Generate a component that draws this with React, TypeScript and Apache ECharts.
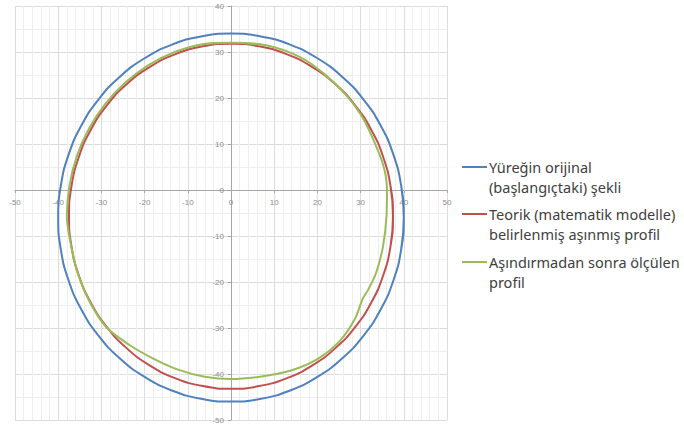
import React, { useEffect, useRef } from "react";
import * as echarts from "echarts";

// Tick labels / axis extents
const xTicks = [-50, -40, -30, -20, -10, 0, 10, 20, 30, 40, 50];
const yTicks = [-50, -40, -30, -20, -10, 0, 10, 20, 30, 40];

const seriesNames = [
  "Yüreğin orijinal\n(başlangıçtaki) şekli",
  "Teorik (matematik modelle)\nbelirlenmiş aşınmış profil",
  "Aşındırmadan sonra ölçülen\nprofil",
];

// Original core shape
const blueProfile: number[][] = [
  [39.39, -12.94], [40, -6], [39.39, 0.94], [37.59, 7.68], [34.64, 14], [30.64, 19.71],
  [25.71, 24.64], [20, 28.64], [13.68, 31.59], [6.94, 33.39], [0, 34],
  [-6.94, 33.39], [-13.68, 31.59], [-20, 28.64], [-25.71, 24.64], [-30.64, 19.71],
  [-34.64, 14], [-37.59, 7.68], [-39.39, 0.94], [-40, -6], [-39.39, -12.94],
  [-37.59, -19.68], [-34.64, -26], [-30.64, -31.71], [-25.71, -36.64], [-20, -40.64],
  [-13.68, -43.59], [-6.94, -45.39], [0, -46], [6.94, -45.39], [13.68, -43.59],
  [20, -40.64], [25.71, -36.64], [30.64, -31.71], [34.64, -26], [37.59, -19.68],
  [39.39, -12.94], [40, -6], [39.39, 0.94],
];

// Theoretical worn profile
const redProfile: number[][] = [
  [36.93, -12.21], [37.5, -5.7], [36.93, 0.81], [35.24, 7.13], [32.48, 13.05], [28.73, 18.41],
  [24.11, 23.03], [18.75, 26.78], [12.83, 29.54], [6.51, 31.23], [0, 31.8],
  [-6.51, 31.23], [-12.83, 29.54], [-18.75, 26.78], [-24.11, 23.03], [-28.73, 18.41],
  [-32.48, 13.05], [-35.24, 7.13], [-36.93, 0.81], [-37.5, -5.7], [-36.93, -12.21],
  [-35.24, -18.53], [-32.48, -24.45], [-28.73, -29.81], [-24.11, -34.43], [-18.75, -38.18],
  [-12.83, -40.94], [-6.51, -42.63], [0, -43.2], [6.51, -42.63], [12.83, -40.94],
  [18.75, -38.18], [24.11, -34.43], [28.73, -29.81], [32.48, -24.45], [35.24, -18.53],
  [36.93, -12.21], [37.5, -5.7], [36.93, 0.81],
];

// Measured profile after wear
const greenProfile: number[][] = [
  [-6.6, 31.7], [0, 32.0], [7.9, 31.5], [16.0, 28.9], [21.5, 25.3], [26.4, 20.9],
  [30.0, 16.5], [32.6, 11.7], [35.3, 5.2], [36.1, 0], [36.0, -5.6], [35.2, -12.2],
  [33.6, -18.0], [31.8, -21.6], [30.5, -23.6], [28.7, -28.0], [25.2, -32.8],
  [20.1, -36.7], [13.7, -39.3], [6.7, -40.6], [0, -41.1], [-6.1, -40.6],
  [-12.1, -39.1], [-17.9, -36.7], [-23.5, -33.7], [-28.8, -29.9], [-32.6, -24.5],
  [-35.3, -18.6], [-37.0, -12.2], [-38.0, -5.7], [-37.4, 0.9], [-35.7, 7.3],
  [-32.9, 13.3], [-29.1, 18.7], [-24.4, 23.4], [-19.0, 27.2], [-13.0, 30.0],
  [-6.6, 31.7], [0, 32.0], [7.9, 31.5],
];

const colors = ["#4F81BD", "#C0504D", "#9BBB59"];

export default function App() {
  const ref = useRef<HTMLDivElement>(null);
  useEffect(() => {
    if (!ref.current) return;
    const chart = echarts.init(ref.current, undefined, { renderer: "svg" });
    const labelStyle = { color: "#8c8c8c", fontSize: 8, fontFamily: "Liberation Sans" };
    const legendTop = [157, 204, 252];
    const graphic: any[] = [];
    seriesNames.forEach((n, i) => {
      graphic.push({
        type: "line",
        shape: { x1: 462, y1: legendTop[i] + 10, x2: 487, y2: legendTop[i] + 10 },
        style: { stroke: colors[i], lineWidth: 2 },
      });
      graphic.push({
        type: "text",
        x: 489,
        y: legendTop[i],
        style: {
          text: n,
          fill: "#404040",
          font: "14.5px 'Noto Sans'",
          lineHeight: 20,
        },
      });
    });
    const left = 15, right = 237, top = 6, bottom = 6;
    const plotW = 684 - left - right;
    const plotH = 426 - top - bottom;
    const xMin = xTicks[0], xMax = xTicks[xTicks.length - 1];
    const yMin = yTicks[0], yMax = yTicks[yTicks.length - 1];
    const yAxisOffset = -plotW * (0 - xMin) / (xMax - xMin);
    const xAxisOffset = -plotH * (0 - yMin) / (yMax - yMin);
    chart.setOption({
      animation: false,
      backgroundColor: "#ffffff",
      grid: { left, right, top, bottom, containLabel: false },
      xAxis: {
        type: "value",
        min: xMin,
        max: xMax,
        interval: 10,
        position: "bottom",
        offset: xAxisOffset,
        axisLine: { onZero: false, lineStyle: { color: "#a6a6a6", width: 1 } },
        axisTick: { show: true, length: 3, lineStyle: { color: "#a6a6a6" } },
        axisLabel: { ...labelStyle, margin: 8, showMinLabel: true, showMaxLabel: true },
        splitLine: { show: true, lineStyle: { color: "#dcdcdc", width: 1 } },
        minorTick: { show: false, splitNumber: 5 },
        minorSplitLine: { show: true, lineStyle: { color: "#eeeeee", width: 1 } },
      },
      yAxis: {
        type: "value",
        min: yMin,
        max: yMax,
        interval: 10,
        position: "left",
        offset: yAxisOffset,
        axisLine: { onZero: false, lineStyle: { color: "#a6a6a6", width: 1 } },
        axisTick: { show: true, length: 3, lineStyle: { color: "#a6a6a6" } },
        axisLabel: { ...labelStyle, margin: 7, showMinLabel: true, showMaxLabel: true },
        splitLine: { show: true, lineStyle: { color: "#dcdcdc", width: 1 } },
        minorTick: { show: false, splitNumber: 2 },
        minorSplitLine: { show: true, lineStyle: { color: "#eeeeee", width: 1 } },
      },
      series: [
        { name: seriesNames[0], type: "line", data: blueProfile, smooth: 0.5, showSymbol: false, lineStyle: { color: colors[0], width: 2 }, z: 3 },
        { name: seriesNames[1], type: "line", data: redProfile, smooth: 0.5, showSymbol: false, lineStyle: { color: colors[1], width: 2 }, z: 4 },
        { name: seriesNames[2], type: "line", data: greenProfile, smooth: 0.3, showSymbol: false, lineStyle: { color: colors[2], width: 2 }, z: 5 },
      ],
      graphic,
    });
    return () => chart.dispose();
  }, []);
  return <div ref={ref} style={{ position: "fixed", left: 0, top: 0, width: 684, height: 426 }} />;
}
